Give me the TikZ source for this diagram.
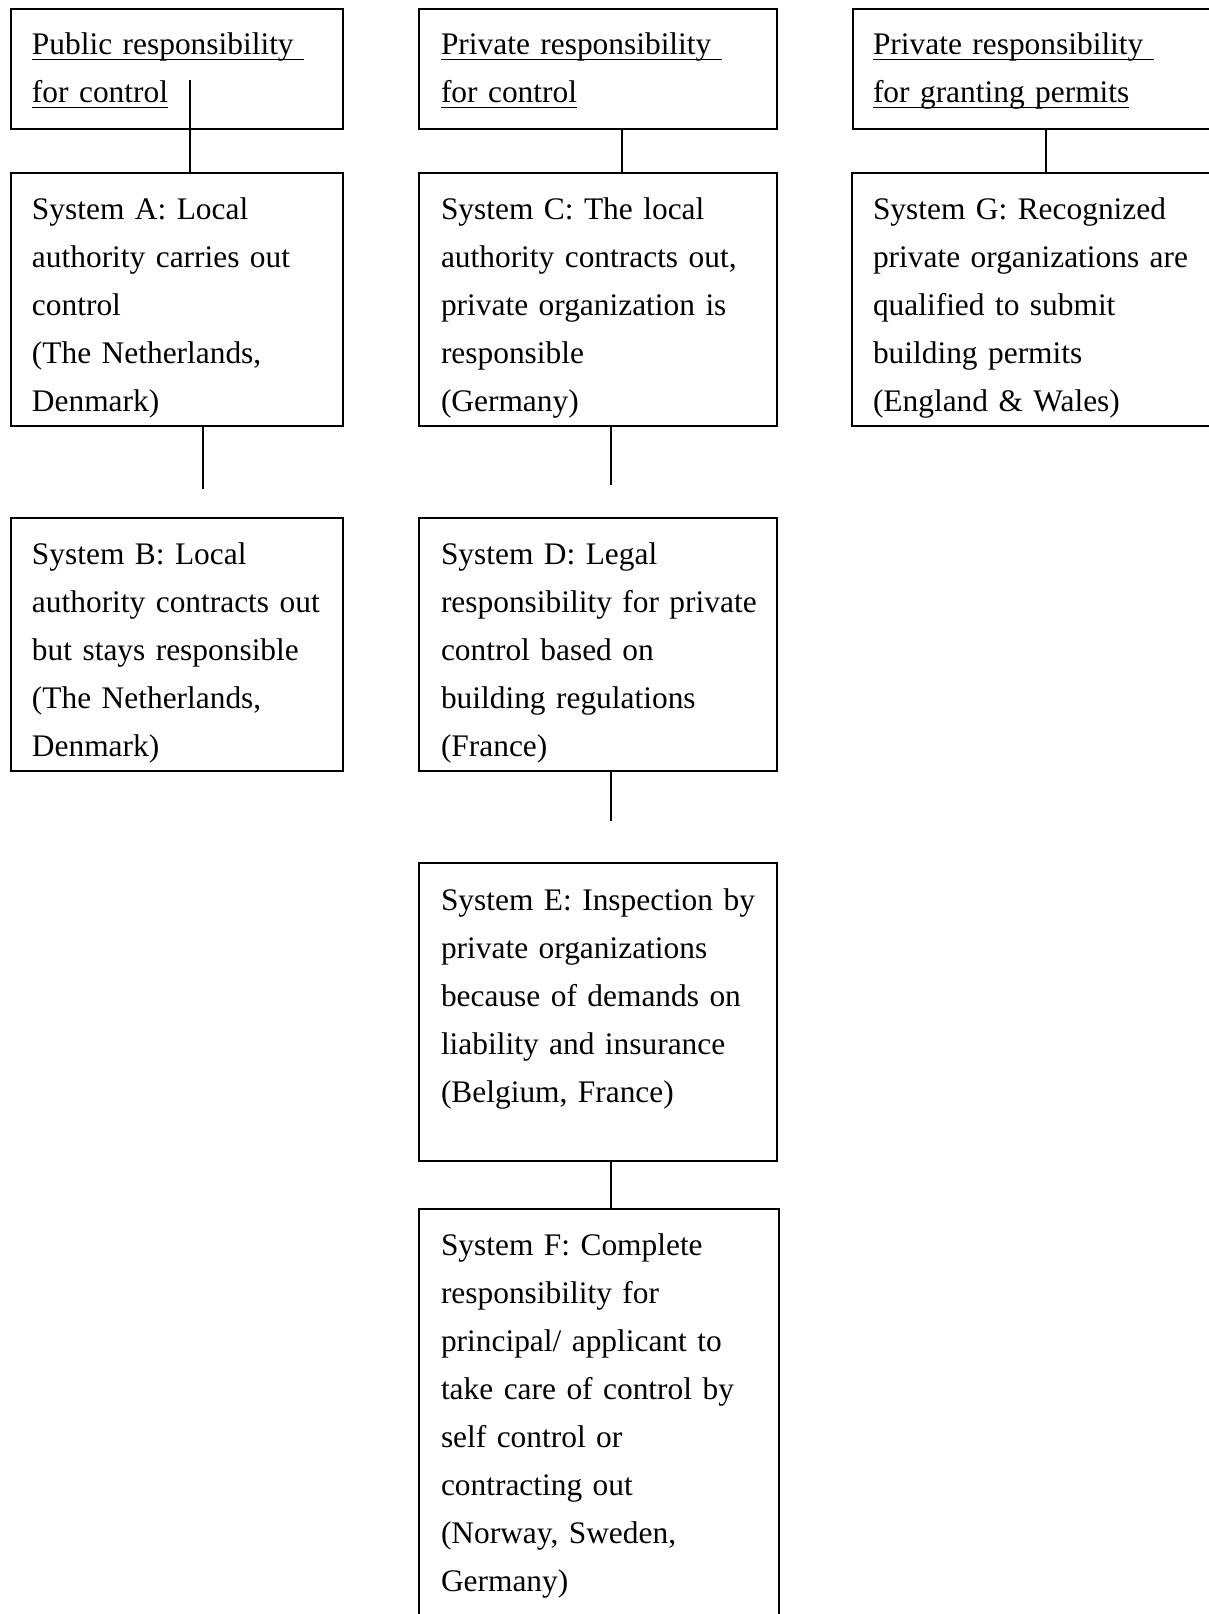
\documentclass[tikz,border=0pt]{standalone}
\usepackage{fontspec}
\setmainfont{Liberation Serif}
% underline drawn at a fixed depth below the baseline, as in a word processor
\newsavebox{\wpbox}
\newcommand{\wpline}[1]{\mbox{\sbox{\wpbox}{#1}\rlap{\rule[-3pt]{\wd\wpbox}{0.7pt}}\usebox{\wpbox}}}
\begin{document}
\begin{tikzpicture}[x=0.5pt,y=-0.5pt,
  every node/.style={outer sep=0pt},
  box/.style={draw, line width=0.75pt, rectangle, inner sep=0pt, anchor=north west},
  txt/.style={anchor=base west, inner sep=0pt, text width=200pt, align=left,
    font=\fontsize{15.7}{24}\selectfont},
  link/.style={line width=0.75pt}]
\useasboundingbox (0,0) rectangle (1209,1614);

% headers
\node[box, minimum width=166pt, minimum height=60pt] (hA) at (11,9) {};
\node[box, minimum width=179pt, minimum height=60pt] (hC) at (419,9) {};
\node[box, minimum width=180pt, minimum height=60pt] (hG) at (853,9) {};

% system boxes
\node[box, minimum width=166pt, minimum height=126.5pt] (A) at (11,173) {};
\node[box, minimum width=179pt, minimum height=126.5pt] (C) at (419,173) {};
\node[box, minimum width=180pt, minimum height=126.5pt] (G) at (852,173) {};
\node[box, minimum width=166pt, minimum height=126.5pt] (B) at (11,518) {};
\node[box, minimum width=179pt, minimum height=126.5pt] (D) at (419,518) {};
\node[box, minimum width=179pt, minimum height=149pt] (E) at (419,863) {};
\node[box, minimum width=180pt, minimum height=206pt] (F) at (419,1209) {};

% texts
\node[txt] (thA) at (32,54) {\wpline{Public responsibility\ }\\\wpline{for control}};
\node[txt] (thC) at (441,54) {\wpline{Private responsibility\ }\\\wpline{for control}};
\node[txt] (thG) at (873,54) {\wpline{Private responsibility\ }\\\wpline{for granting permits}};

\node[txt] (tA) at (32,219) {System A: Local\\authority carries out\\control\\(The Netherlands,\\Denmark)};
\node[txt] (tC) at (441,219) {System C: The local\\authority contracts out,\\private organization is\\responsible\\(Germany)};
\node[txt] (tG) at (873,219) {System G: Recognized\\private organizations are\\qualified to submit\\building permits\\(England \& Wales)};
\node[txt] (tB) at (32,564) {System B: Local\\authority contracts out\\but stays responsible\\(The Netherlands,\\Denmark)};
\node[txt] (tD) at (441,564) {System D: Legal\\responsibility for private\\control based on\\building regulations\\(France)};
\node[txt] (tE) at (441,910) {System E: Inspection by\\private organizations\\because of demands on\\liability and insurance\\(Belgium, France)};
\node[txt] (tF) at (441,1255) {System F: Complete\\responsibility for\\principal/ applicant to\\take care of control by\\self control or\\contracting out\\(Norway, Sweden,\\Germany)};

% connectors
\coordinate (sA) at (190,80);
\coordinate (xC) at (622,0);
\coordinate (xG) at (1046,0);
\coordinate (eAB) at (203,489);
\coordinate (eCD) at (611,485);
\coordinate (eDE) at (611,821);
\coordinate (xF) at (611,0);

\draw[link] (sA) -- (sA |- A.north);
\draw[link] (hC.south -| xC) -- (C.north -| xC);
\draw[link] (hG.south -| xG) -- (G.north -| xG);
\draw[link] (A.south -| eAB) -- (eAB);
\draw[link] (C.south -| eCD) -- (eCD);
\draw[link] (D.south -| eDE) -- (eDE);
\draw[link] (E.south -| xF) -- (F.north -| xF);
\end{tikzpicture}
\end{document}
